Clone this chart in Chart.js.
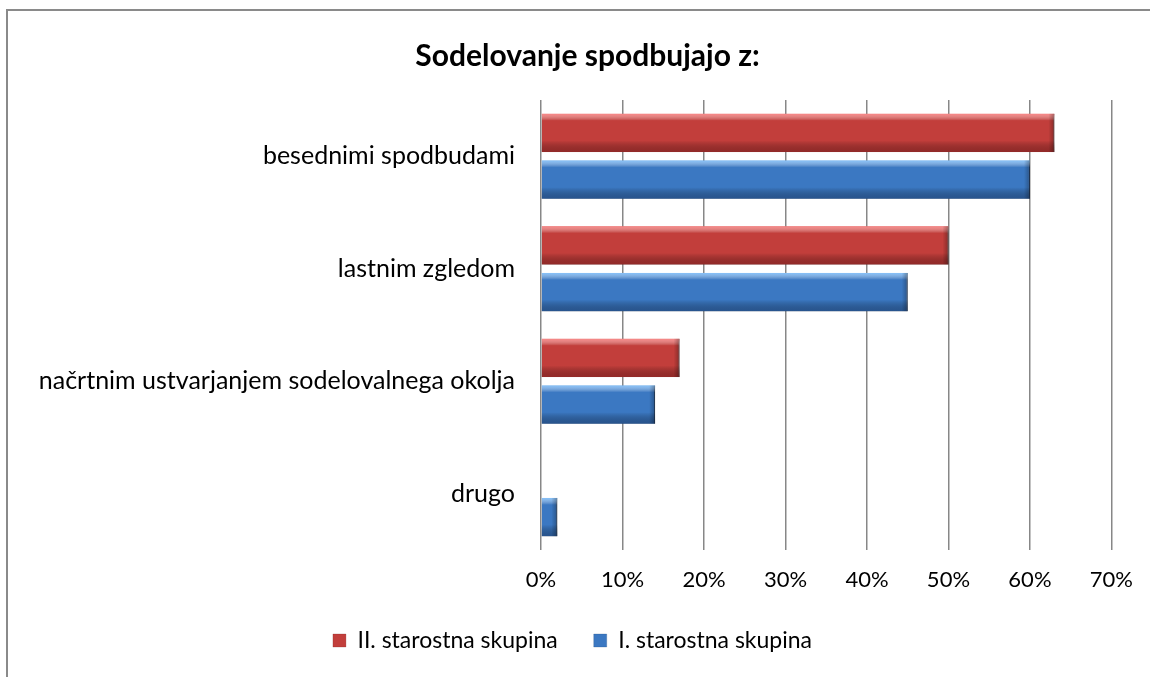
<!DOCTYPE html>
<html>
<head>
<meta charset="utf-8">
<script src="https://cdn.jsdelivr.net/npm/chart.js@4"></script>
<style>
  body { margin: 0; background: #fff; }
  #wrap { position: relative; width: 1150px; height: 677px; overflow: hidden; }
  #frame { position: absolute; left: 6px; top: 9px; width: 1200px; height: 700px;
           border-left: 2px solid #8a8a8a; border-top: 2px solid #8a8a8a; }
  canvas { position: absolute; left: 0; top: 0; }
</style>
</head>
<body>
<div id="wrap">
  <div id="frame"></div>
  <canvas id="chart" width="1150" height="677"></canvas>
</div>
<script>
const categories = [
  "besednimi spodbudami",
  "lastnim zgledom",
  "načrtnim ustvarjanjem sodelovalnega okolja",
  "drugo",
];
const seriesNames = ["II. starostna skupina", "I. starostna skupina"];
const groupII = [63, 50, 17, 0];   // red
const groupI = [60, 45, 14, 2];    // blue
const tickLabels = ["0%", "10%", "20%", "30%", "40%", "50%", "60%", "70%"];

const fontName = "Lato, 'Open Sans', sans-serif";

// glossy look on each bar, drawn over the library's own bar elements
const glossPlugin = {
  id: "gloss",
  afterLayout(chart) {
    // title and legend sit a bit right of the canvas centre in the original
    if (chart.titleBlock) {
      chart.titleBlock.left += 24;
      chart.titleBlock.right += 24;
    }
    if (chart.legend) {
      chart.legend.left += 9;
      chart.legend.right += 9;
    }
  },
  beforeDatasetDraw(chart) {
    const c = chart.ctx;
    c.save();
    c.shadowColor = "rgba(0,0,0,0.35)";
    c.shadowBlur = 6;
    c.shadowOffsetY = 3;
  },
  afterDatasetDraw(chart, args) {
    const c = chart.ctx;
    c.restore();
    const meta = args.meta;
    const light = args.index === 0 ? "rgba(255,140,140,0.9)" : "rgba(140,200,255,0.9)";
    const dark = args.index === 0 ? "rgba(110,25,25,0.55)" : "rgba(25,55,100,0.55)";
    meta.data.forEach((bar) => {
      const p = bar.getProps(["x", "y", "base", "height"], true);
      const w = p.x - p.base;
      if (w <= 0) return;
      const top = p.y - p.height / 2;
      const g = c.createLinearGradient(0, top, 0, top + p.height);
      g.addColorStop(0, light);
      g.addColorStop(0.18, "rgba(255,255,255,0)");
      g.addColorStop(0.7, "rgba(0,0,0,0)");
      g.addColorStop(1, dark);
      c.fillStyle = g;
      c.fillRect(p.base, top, w, p.height);
      // darker end cap
      const cap = Math.min(6, w);
      const g2 = c.createLinearGradient(p.x - cap, 0, p.x, 0);
      g2.addColorStop(0, "rgba(0,0,0,0)");
      g2.addColorStop(1, "rgba(0,0,0,0.3)");
      c.fillStyle = g2;
      c.fillRect(p.x - cap, top, cap, p.height);
    });
  },
};

new Chart(document.getElementById("chart").getContext("2d"), {
  type: "bar",
  data: {
    labels: categories,
    datasets: [
      {
        label: seriesNames[0],
        data: groupII,
        backgroundColor: "#c23e3b",
        borderColor: "#7e2624",
        borderWidth: { top: 0, bottom: 0, left: 0, right: 1 },
        categoryPercentage: 0.83,
        barPercentage: 0.82,
      },
      {
        label: seriesNames[1],
        data: groupI,
        backgroundColor: "#3b78c2",
        borderColor: "#25497a",
        borderWidth: { top: 0, bottom: 0, left: 0, right: 1 },
        categoryPercentage: 0.83,
        barPercentage: 0.82,
      },
    ],
  },
  options: {
    indexAxis: "y",
    responsive: false,
    animation: false,
    layout: { padding: { left: 10, right: 33, bottom: 15 } },
    scales: {
      x: {
        min: 0,
        max: 70,
        afterFit(scale) { scale.height = 43; },
        ticks: {
          stepSize: 10,
          padding: 17,
          color: "#000",
          font: { family: fontName, size: 22 },
          callback: (v, i) => tickLabels[i],
        },
        grid: { color: "#878787", lineWidth: 1.5, drawTicks: false },
        border: { display: false },
      },
      y: {
        afterFit(scale) { scale.width = 531; },
        ticks: {
          padding: 26,
          color: "#000",
          font: { family: fontName, size: 25 },
        },
        grid: { display: false, drawTicks: false },
        border: { display: false },
      },
    },
    plugins: {
      title: {
        display: true,
        text: "Sodelovanje spodbujajo z:",
        color: "#000",
        font: { family: fontName, size: 30, weight: "bold" },
        padding: { top: 38, bottom: 26 },
      },
      legend: {
        position: "bottom",
        labels: {
          color: "#000",
          font: { family: fontName, size: 23 },
          boxWidth: 13,
          boxHeight: 13,
          padding: 36,
        },
      },
      tooltip: { enabled: false },
    },
  },
  plugins: [glossPlugin],
});
</script>
</body>
</html>
